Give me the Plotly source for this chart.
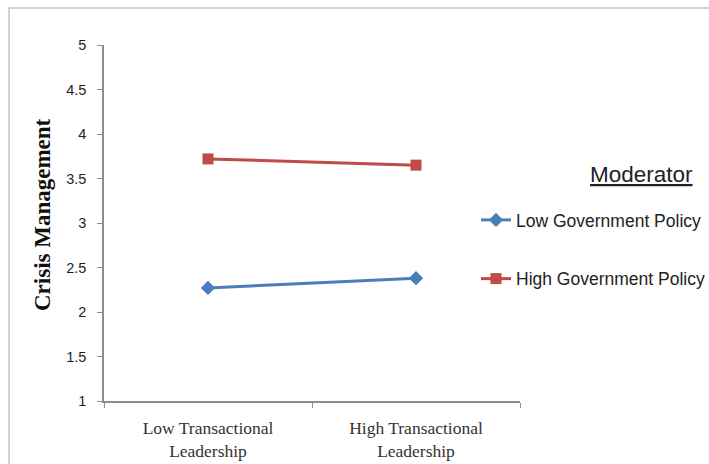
import plotly.graph_objects as go

categories = ["Low Transactional<br>Leadership", "High Transactional<br>Leadership"]
low_policy = [2.27, 2.38]
high_policy = [3.72, 3.65]
y_ticks = [1, 1.5, 2, 2.5, 3, 3.5, 4, 4.5, 5]
y_tick_text = ["1", "1.5", "2", "2.5", "3", "3.5", "4", "4.5", "5"]

W, H = 709, 464
L, R, T, B = 104, 189, 45, 63

def px_x(p):
    return (p - L) / (W - L - R)

def px_y(p):
    return (H - B - p) / (H - T - B)

fig = go.Figure()
fig.add_trace(go.Scatter(
    x=categories, y=low_policy, name="Low Government Policy", mode="lines+markers",
    line=dict(color="#4a7ebb", width=3), marker=dict(symbol="diamond", size=11, color="#4a7ebb"),
    legendgroup="a"))
fig.add_trace(go.Scatter(
    x=categories, y=high_policy, name="High Government Policy", mode="lines+markers",
    line=dict(color="#be4b48", width=3), marker=dict(symbol="square", size=11, color="#be4b48"),
    legendgroup="b"))

fig.update_layout(
    width=W, height=H, margin=dict(l=L, r=R, t=T, b=B, autoexpand=False),
    plot_bgcolor="white", paper_bgcolor="white",
    showlegend=True,
    legend=dict(x=px_x(476), y=px_y(202), xanchor="left", yanchor="top",
                font=dict(family="Liberation Sans", size=17.5, color="#222"),
                tracegroupgap=33, itemwidth=30, bgcolor="rgba(0,0,0,0)"),
    xaxis=dict(type="category", range=[-0.5, 1.5], showline=True, linecolor="#8c8c8c", linewidth=1.5,
               ticks="outside", tickson="boundaries", ticklen=5, tickcolor="#8c8c8c", ticklabelstandoff=10,
               tickfont=dict(family="Liberation Serif", size=17.5, color="#333"), showgrid=False, zeroline=False),
    yaxis=dict(range=[1, 5], tickvals=y_ticks, ticktext=y_tick_text, showline=True, linecolor="#8c8c8c",
               linewidth=1.5, ticks="outside", ticklen=5, tickcolor="#8c8c8c", ticklabelstandoff=8,
               tickfont=dict(family="Liberation Sans", size=14.5, color="#1e1e1e"), showgrid=False, zeroline=False),
    annotations=[
        dict(text="<b>Crisis Management</b>", textangle=-90, x=px_x(43), y=px_y(215), xref="paper", yref="paper",
             xanchor="center", yanchor="middle",
             showarrow=False, font=dict(family="Liberation Serif", size=23, color="#111")),
        dict(text="<u>Moderator</u>", x=px_x(641), y=px_y(174), xref="paper", yref="paper",
             xanchor="center", yanchor="middle",
             showarrow=False, font=dict(family="Liberation Sans", size=22.5, color="#222")),
    ],
    shapes=[dict(type="rect", xref="paper", yref="paper", x0=px_x(9), x1=px_x(720), y0=px_y(480), y1=px_y(8),
                 line=dict(color="#c4c4c4", width=1.5), layer="below")],
)

fig.write_html("out.html")
